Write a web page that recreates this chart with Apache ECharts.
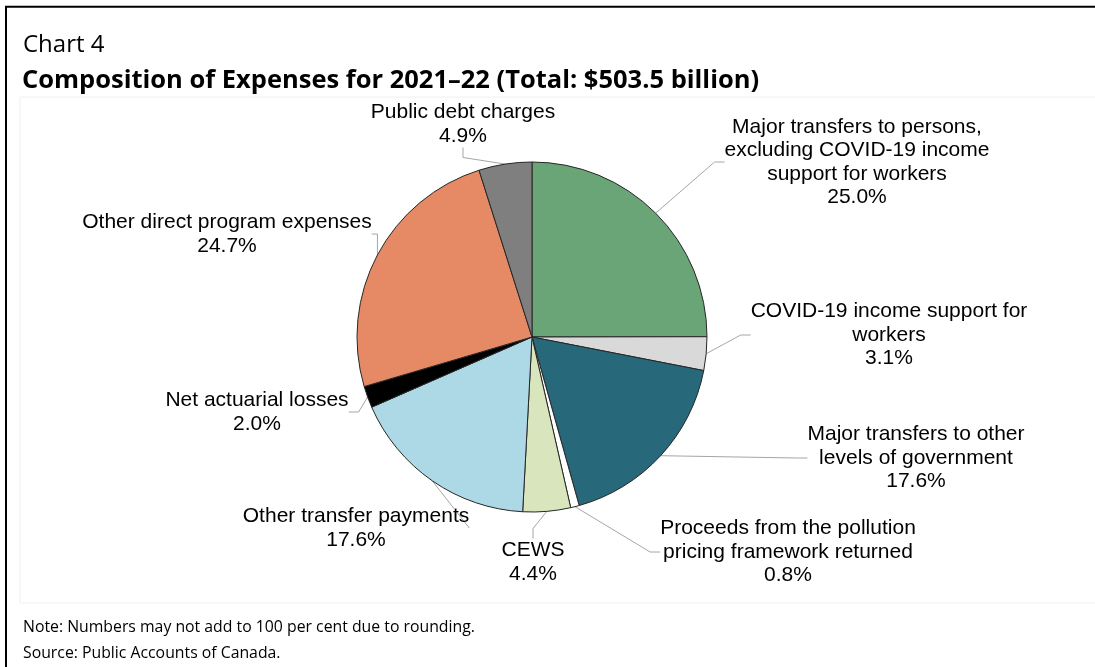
<!DOCTYPE html>
<html>
<head>
<meta charset="utf-8">
<script src="https://cdn.jsdelivr.net/npm/echarts@6/dist/echarts.min.js"></script>
<style>
  html, body { margin: 0; padding: 0; background: #ffffff; }
  #chart { width: 1095px; height: 667px; }
</style>
</head>
<body>
<div id="chart"></div>
<script>
// Expense categories, clockwise from 12 o'clock
const categories = [
  'Major transfers to persons,\nexcluding COVID-19 income\nsupport for workers',
  'COVID-19 income support for\nworkers',
  'Major transfers to other\nlevels of government',
  'Proceeds from the pollution\npricing framework returned',
  'CEWS',
  'Other transfer payments',
  'Net actuarial losses',
  'Other direct program expenses',
  'Public debt charges'
];
// Share of total expenses, per cent
const shares = [25.0, 3.1, 17.6, 0.8, 4.4, 17.6, 2.0, 24.7, 4.9];

const sliceColors = ['#6aa577', '#d9d9d9', '#27687a', '#ffffff', '#d9e5bd', '#add8e6', '#000000', '#e68a65', '#7f7f7f'];

// Where each label block sits (centre of the text block)
const labelSpots = [
  [857, 162], [889, 335], [916, 458], [788, 552], [533, 562],
  [356, 528], [257, 412], [227, 234], [463, 124]
];

const chart = echarts.init(document.getElementById('chart'), null, { renderer: 'canvas' });

const labelFont = '"Liberation Sans", Arial, sans-serif';
const titleFont = '"Open Sans", "Noto Sans", sans-serif';

chart.setOption({
  animation: false,
  backgroundColor: '#ffffff',
  title: [
    { text: 'Chart 4', left: 18, top: 28,
      textStyle: { fontFamily: titleFont, fontWeight: 'normal', fontSize: 24, color: '#000' } },
    { text: 'Composition of Expenses for 2021\u201322 (Total: $503.5 billion)', left: 17, top: 63,
      textStyle: { fontFamily: titleFont, fontWeight: 'bold', fontSize: 25.5, color: '#000' } },
    { text: 'Note: Numbers may not add to 100 per cent due to rounding.', left: 18, top: 614,
      textStyle: { fontFamily: titleFont, fontWeight: 'normal', fontSize: 15.8, color: '#000' } },
    { text: 'Source: Public Accounts of Canada.', left: 18, top: 640,
      textStyle: { fontFamily: titleFont, fontWeight: 'normal', fontSize: 15.8, color: '#000' } }
  ],
  graphic: [
    { type: 'rect', silent: true, z: -1,
      shape: { x: 20, y: 97, width: 1200, height: 506 },
      style: { fill: 'none', stroke: '#f0f0f0', lineWidth: 1 } },
    { type: 'rect', silent: true, z: 10,
      shape: { x: 6, y: 6.7, width: 2000, height: 2000 },
      style: { fill: 'none', stroke: '#000000', lineWidth: 2 } }
  ],
  series: [{
    type: 'pie',
    center: [532, 337],
    radius: 175,
    startAngle: 90,
    clockwise: true,
    avoidLabelOverlap: false,
    data: categories.map((name, i) => ({
      name: name,
      value: shares[i],
      itemStyle: { color: sliceColors[i] }
    })),
    itemStyle: { borderColor: '#262626', borderWidth: 1 },
    label: {
      show: true,
      position: 'outside',
      fontFamily: labelFont,
      fontSize: 21,
      lineHeight: 23.5,
      color: '#000',
      align: 'center',
      formatter: p => p.name + '\n' + p.value.toFixed(1) + '%'
    },
    labelLine: {
      show: true,
      length: 14,
      length2: 10,
      lineStyle: { color: '#a6a6a6', width: 1 }
    },
    labelLayout: p => ({
      x: labelSpots[p.dataIndex][0],
      y: labelSpots[p.dataIndex][1],
      align: 'center',
      verticalAlign: 'middle'
    }),
    emphasis: { disabled: true }
  }]
});
</script>
</body>
</html>
